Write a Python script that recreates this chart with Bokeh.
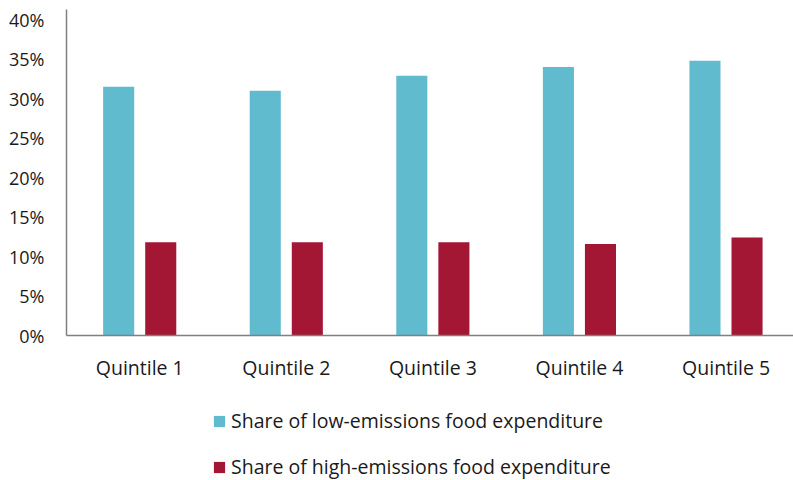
from bokeh.plotting import figure
from bokeh.layouts import column
from bokeh.models import Range1d, FixedTicker, ColumnDataSource, Legend, LegendItem
from bokeh.transform import dodge
from bokeh.embed import file_html
from bokeh.resources import INLINE

categories = ["Quintile 1", "Quintile 2", "Quintile 3", "Quintile 4", "Quintile 5"]
low_emissions = [31.5, 31.0, 32.9, 34.0, 34.8]
high_emissions = [11.8, 11.8, 11.8, 11.6, 12.4]
y_ticks = [0, 5, 10, 15, 20, 25, 30, 35, 40]
series_names = ["Share of low-emissions food expenditure",
                "Share of high-emissions food expenditure"]

TEAL = "#61BBCF"
RED = "#A31735"
FONT = "Open Sans"

x_pos = [i + 0.5 for i in range(len(categories))]
src = ColumnDataSource(dict(x=x_pos, low=low_emissions, high=high_emissions))

# ---- main chart ----
p = figure(width=793, height=408, output_backend="svg", toolbar_location=None,
           x_range=Range1d(0, 4.96), y_range=Range1d(0, 41.3),
           min_border_left=66, min_border_right=0, min_border_top=9,
           min_border_bottom=73)

p.vbar(x=dodge("x", -0.144), top="low", width=0.212, source=src,
       fill_color=TEAL, line_color=None, bottom=0)
p.vbar(x=dodge("x", 0.143), top="high", width=0.212, source=src,
       fill_color=RED, line_color=None, bottom=0)

p.xgrid.visible = False
p.ygrid.visible = False
p.outline_line_color = None

p.yaxis.ticker = FixedTicker(ticks=y_ticks)
p.yaxis.major_label_overrides = {t: f"{t}%" for t in y_ticks}
p.xaxis.ticker = FixedTicker(ticks=x_pos)
p.xaxis.major_label_overrides = {x: c for x, c in zip(x_pos, categories)}

for ax in (p.xaxis[0], p.yaxis[0]):
    ax.axis_line_color = "#808080"
    ax.axis_line_width = 1.5
    ax.major_tick_line_color = None
    ax.minor_tick_line_color = None
    ax.major_tick_in = 0
    ax.major_tick_out = 0
    ax.minor_tick_in = 0
    ax.minor_tick_out = 0
    ax.major_label_text_font = FONT
    ax.major_label_text_color = "#1a1a1a"

p.yaxis.major_label_text_font_size = "18px"
p.yaxis.major_label_standoff = 22
p.xaxis.major_label_text_font_size = "19.5px"
p.xaxis.major_label_standoff = 18

# ---- legend strip below the chart ----
# (its bars lie outside the strip's y range, only the legend is visible)
lg = figure(width=793, height=72, output_backend="svg", toolbar_location=None,
            x_range=Range1d(0, 4.96), y_range=Range1d(100, 101),
            x_axis_location=None, y_axis_location=None, min_border=0)
lg.outline_line_color = None
for g in lg.grid:
    g.visible = False

d1 = lg.vbar(x="x", top="low", width=0.212, source=src,
             fill_color=TEAL, line_color=None, bottom=0)
d2 = lg.vbar(x="x", top="high", width=0.212, source=src,
             fill_color=RED, line_color=None, bottom=0)

legend = Legend(items=[LegendItem(label=series_names[0], renderers=[d1]),
                       LegendItem(label=series_names[1], renderers=[d2])],
                location=(146, 0), orientation="vertical",
                margin=0, padding=0, border_line_color=None,
                background_fill_alpha=0, spacing=19,
                glyph_width=14, glyph_height=14, label_height=20,
                label_standoff=5, label_text_font=FONT,
                label_text_font_size="19.5px", label_text_color="#1a1a1a")
lg.add_layout(legend, "center")

layout = column(p, lg, spacing=0)
open("out.html", "w").write(file_html(layout, INLINE))
